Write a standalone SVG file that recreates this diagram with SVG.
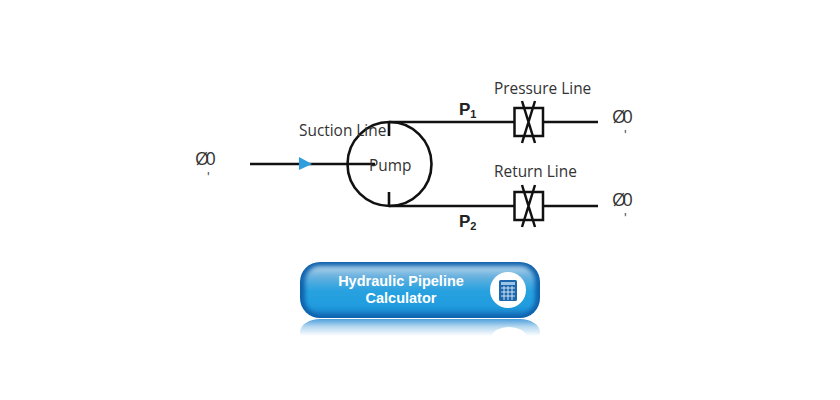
<svg xmlns="http://www.w3.org/2000/svg" width="840" height="400" viewBox="0 0 840 400">
<defs>
<style>
.ln{fill:none;stroke:#111;stroke-width:2.6}
.vl{fill:none;stroke:#111;stroke-width:2.5}
.t{font-family:"Open Sans","Noto Sans",sans-serif;font-size:15.4px;fill:#333}
.b{font-family:"Liberation Sans",sans-serif;font-size:17px;font-weight:bold;fill:#222}
.s{font-size:11px}
.o{font-family:"Open Sans","Noto Sans",sans-serif;font-size:18px;fill:#333;letter-spacing:-3.500px}
.d{font-family:"Liberation Sans",sans-serif;font-size:14px;fill:#555}
.w{font-family:"Liberation Sans",sans-serif;font-size:14.500px;font-weight:bold;fill:#fff;text-anchor:middle}
</style>
<linearGradient id="btn" x1="0" y1="0" x2="0" y2="1">
<stop offset="0" stop-color="#b4d6ec"/><stop offset="0.2" stop-color="#6db2df"/><stop offset="0.5" stop-color="#28a2e0"/><stop offset="0.85" stop-color="#209cdf"/><stop offset="1" stop-color="#1a80c8"/>
</linearGradient>
<linearGradient id="ref" x1="0" y1="0" x2="0" y2="1">
<stop offset="0" stop-color="#4f9fdc"/><stop offset="0.45" stop-color="#b5d8f0"/><stop offset="1" stop-color="#fff"/>
</linearGradient>
<filter id="soft" x="-5%" y="-15%" width="110%" height="130%"><feGaussianBlur stdDeviation="2"/></filter>
<g id="valve"><rect x="514.500" y="-14" width="28.500" height="28" class="vl"/><path d="M522-21 535 21M535-21 522 21" class="vl"/></g>
</defs>
<rect width="840" height="400" fill="#fff"/>
<g id="connectors">
<path class="ln" d="M250 164H375"/>
<path class="ln" d="M389 122H514M543 122H598"/>
<path class="ln" d="M389 206H514M543 206H598"/>
<path class="ln" d="M389 122V136M389 192V206"/>
<polygon points="299,157 312,164 299,170" fill="#2f9fdc"/>
</g>
<g id="pump">
<circle cx="389.500" cy="164" r="42" class="ln"/>
<text x="369" y="171" class="t">Pump</text>
</g>
<g id="suction-label"><text x="299" y="136" class="t">Suction Line</text></g>
<g id="source"><text x="195" y="165" class="o">Ø0</text><text x="207" y="182" class="d">'</text></g>
<g id="pressure-valve"><use href="#valve" y="122"/><text x="494" y="94" class="t">Pressure Line</text></g>
<g id="return-valve"><use href="#valve" y="206"/><text x="494" y="177" class="t">Return Line</text></g>
<g id="outlet-1"><text x="612" y="123" class="o">Ø0</text><text x="624" y="140" class="d">'</text></g>
<g id="outlet-2"><text x="612" y="206" class="o">Ø0</text><text x="624" y="223" class="d">'</text></g>
<g id="p1"><text x="459" y="115" class="b">P<tspan class="s" dy="3">1</tspan></text></g>
<g id="p2"><text x="459" y="227" class="b">P<tspan class="s" dy="3">2</tspan></text></g>
<g id="calculator-button">
<path d="M320 319H520C530 319 540 324 540 333V336H300V333C300 324 310 319 320 319Z" fill="url(#ref)"/>
<path d="M492 336a17 9 0 0 1 34 0Z" fill="#fff"/>
<rect x="300" y="262" width="240" height="56" rx="20" fill="#0f62ad"/>
<rect x="305" y="266" width="230" height="48" rx="15" fill="url(#btn)" filter="url(#soft)"/>
<text x="401" y="286" class="w">Hydraulic Pipeline</text>
<text x="401" y="303" class="w">Calculator</text>
<circle cx="508" cy="290" r="18" fill="#fff"/>
<rect x="499" y="280" width="18" height="21" rx="1.500" fill="#1d67ad"/>
<rect x="501" y="282" width="14" height="3" fill="#9cc4e4"/>
<path d="M501 288H515M501 292H515M501 296H515M504 286V300M508 286V300M512 286V300" stroke="#cfe3f3" stroke-width="1" fill="none"/>
</g>
</svg>
